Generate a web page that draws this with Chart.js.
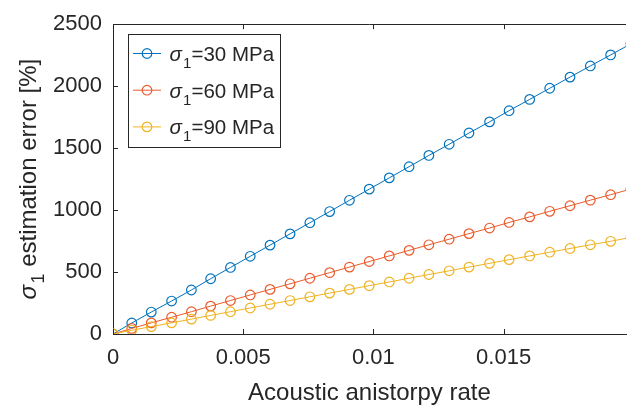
<!DOCTYPE html>
<html>
<head>
<meta charset="utf-8">
<script src="https://cdn.jsdelivr.net/npm/chart.js@4.4.1/dist/chart.umd.min.js"></script>
<style>
html,body{margin:0;padding:0;background:#fff;overflow:hidden}
#wrap{width:632px;height:409px;position:relative}
</style>
</head>
<body>
<div id="wrap"><canvas id="c" width="632" height="409"></canvas></div>
<script>
// ---- data ----
const rate = [0, 0.00072, 0.00147, 0.00225, 0.00301, 0.00375, 0.00451, 0.00527, 0.00603, 0.0068, 0.00756, 0.00832, 0.00908, 0.00984, 0.01061, 0.01137, 0.01213, 0.01291, 0.01367, 0.01446, 0.01521, 0.016, 0.01677, 0.01755, 0.01833, 0.01911, 0.01989];
const err30 = [0, 89, 177, 266, 355, 446, 537, 627, 717, 808, 898, 988, 1079, 1169, 1260, 1350, 1441, 1531, 1622, 1712, 1802, 1893, 1983, 2073, 2163, 2252, 2342];
const err60 = [0, 45, 90, 135, 180, 225, 270, 315, 360, 405, 450, 495, 540, 585, 630, 675, 720, 765, 810, 855, 900, 945, 990, 1035, 1080, 1124, 1170];
const err90 = [0, 30, 60, 90, 120, 150, 180, 210, 240, 270, 300, 330, 360, 390, 420, 450, 480, 510, 540, 570, 600, 630, 660, 690, 720, 748, 780];
const sigma1 = [30, 60, 90];
const xTicks = [0, 0.005, 0.01, 0.015];
const yTicks = [0, 500, 1000, 1500, 2000, 2500];
const xLabel = 'Acoustic anistorpy rate';
const yLabelRest = ' estimation error [%]';

// ---- styles ----
const FONT = '"Liberation Sans", Arial, Helvetica, sans-serif';
const INK = '#262626';
const COLORS = ['#0072BD', '#E95A2A', '#EFB322'];

function pts(ys){ return ys.map((v,i)=>({x:rate[i], y:v})); }
const series = [err30, err60, err90];

const datasets = series.map((ys,i)=>({
  label: '\u03c31=' + sigma1[i] + ' MPa',
  data: pts(ys),
  borderColor: COLORS[i],
  backgroundColor: 'rgba(0,0,0,0)',
  borderWidth: 1,
  pointRadius: 4.8,
  pointBorderWidth: 1.2,
  pointBorderColor: COLORS[i],
  pointBackgroundColor: 'rgba(0,0,0,0)',
  tension: 0,
  order: 2 - i
}));

function drawSigma(ctx, x, y, rest, size, measureOnly){
  let w = 0;
  ctx.font = 'italic ' + size + 'px ' + FONT;
  if(!measureOnly) ctx.fillText('\u03c3', x + w, y);
  w += ctx.measureText('\u03c3').width + size*0.06;
  const sub = Math.round(size*0.74);
  ctx.font = sub + 'px ' + FONT;
  if(!measureOnly) ctx.fillText('1', x + w, y + size*0.34);
  w += ctx.measureText('1').width;
  ctx.font = size + 'px ' + FONT;
  if(!measureOnly) ctx.fillText(rest, x + w, y);
  w += ctx.measureText(rest).width;
  return w;
}

const frame = {
  id: 'frame',
  afterDraw(chart){
    const {ctx, chartArea:a, scales:{x, y}} = chart;
    ctx.save();
    ctx.strokeStyle = INK; ctx.lineWidth = 1;
    ctx.beginPath();
    const top = Math.round(a.top) + 0.5;
    ctx.moveTo(a.left, top); ctx.lineTo(a.right, top);
    xTicks.forEach(v=>{
      const p = Math.round(x.getPixelForValue(v)) + 0.5;
      ctx.moveTo(p, a.bottom); ctx.lineTo(p, a.bottom - 5);
      ctx.moveTo(p, a.top); ctx.lineTo(p, a.top + 5);
    });
    yTicks.forEach(v=>{
      const p = Math.round(y.getPixelForValue(v)) + 0.5;
      ctx.moveTo(a.left, p); ctx.lineTo(a.left + 5, p);
    });
    ctx.stroke();

    // x title
    ctx.fillStyle = INK;
    ctx.textBaseline = 'alphabetic';
    ctx.textAlign = 'center';
    ctx.font = '24px ' + FONT;
    ctx.fillText(xLabel, (a.left + a.right)/2, 400);

    // y title (rotated)
    ctx.textAlign = 'left';
    const ySize = 24;
    const W = drawSigma(ctx, 0, 0, yLabelRest, ySize, true);
    ctx.save();
    ctx.translate(36, (a.top + a.bottom)/2);
    ctx.rotate(-Math.PI/2);
    drawSigma(ctx, -W/2, 0, yLabelRest, ySize, false);
    ctx.restore();

    // legend
    const bx = 128.5, by = 34.5, bw = 152, bh = 113;
    ctx.fillStyle = '#ffffff';
    ctx.fillRect(bx, by, bw, bh);
    ctx.strokeStyle = INK; ctx.lineWidth = 1;
    ctx.strokeRect(bx, by, bw, bh);
    chart.data.datasets.forEach((ds, i)=>{
      const cy = 53.5 + i*36.7;
      ctx.strokeStyle = ds.borderColor; ctx.lineWidth = 1;
      ctx.beginPath(); ctx.moveTo(133, cy); ctx.lineTo(161, cy); ctx.stroke();
      ctx.lineWidth = 1.2;
      ctx.beginPath(); ctx.arc(147, cy, 4.8, 0, Math.PI*2); ctx.stroke();
      ctx.fillStyle = INK;
      drawSigma(ctx, 169.5, cy + 7.5, '=' + sigma1[i] + ' MPa', 20.5, false);
    });
    ctx.restore();
  }
};

new Chart(document.getElementById('c'), {
  type: 'line',
  data: { datasets },
  options: {
    responsive: false,
    animation: false,
    devicePixelRatio: 1,
    layout: { padding: { top: 20, right: 0, left: 0, bottom: 0 } },
    plugins: { legend: { display: false }, tooltip: { enabled: false } },
    scales: {
      x: {
        type: 'linear', min: 0, max: 0.0197,
        grid: { display: false, drawTicks: false },
        border: { display: true, color: INK, width: 1 },
        afterBuildTicks: s => { s.ticks = xTicks.map(v=>({value:v})); },
        afterFit: s => { s.height = 75; },
        ticks: {
          color: INK, padding: 11, maxRotation: 0, autoSkip: false,
          font: { family: FONT, size: 22 },
          callback: v => String(v)
        }
      },
      y: {
        type: 'linear', min: 0, max: 2500,
        grid: { display: false, drawTicks: false },
        border: { display: true, color: INK, width: 1 },
        afterBuildTicks: s => { s.ticks = yTicks.map(v=>({value:v})); },
        afterFit: s => { s.width = 113; },
        ticks: {
          color: INK, padding: 11,
          font: { family: FONT, size: 22 },
          callback: v => String(v)
        }
      }
    }
  },
  plugins: [frame]
});
</script>
</body>
</html>
